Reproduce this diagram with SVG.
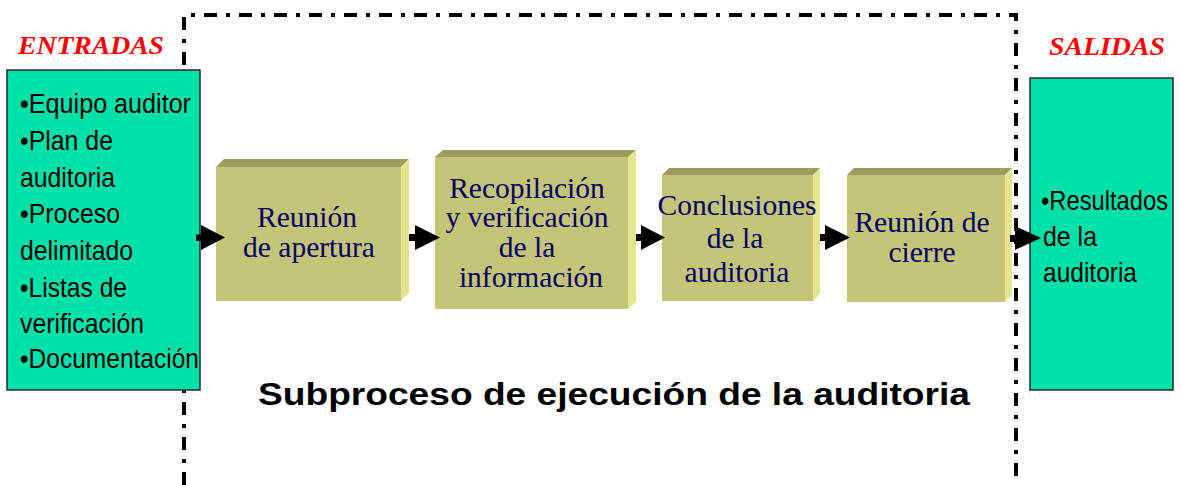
<svg xmlns="http://www.w3.org/2000/svg" width="1181" height="485" viewBox="0 0 1181 485">
  <style>
    .io { fill: #00E1A9; stroke: #2a2a2a; stroke-width: 1.5; }
    .iotext { font-family: "Liberation Sans", Arial, sans-serif; font-size: 27.5px; fill: #000; }
    .label { font-family: "Liberation Serif", "Times New Roman", serif; font-size: 26px; font-weight: bold; font-style: italic; fill: #FF0000; }
    .front { fill: #C4C477; }
    .top { fill: #9C9C5E; }
    .side { fill: #E4E48E; }
    .btext { font-family: "Liberation Serif", "Times New Roman", serif; font-size: 29.5px; fill: #000066; text-anchor: middle; }
    .frame { fill: none; stroke: #000; stroke-width: 4; stroke-dasharray: 13 9 4 9; }
    .arrow { fill: #000; }
    .title { font-family: "Liberation Sans", Arial, sans-serif; font-size: 31px; font-weight: bold; fill: #000; }
  </style>

  <g id="frame">
    <path class="frame" d="M184,485 L184,15 L1016,15 L1016,485"/>
  </g>

  <g id="entradas-label">
    <text class="label" x="18" y="54" textLength="146" lengthAdjust="spacingAndGlyphs">ENTRADAS</text>
  </g>
  <g id="salidas-label">
    <text class="label" x="1049" y="55" textLength="116" lengthAdjust="spacingAndGlyphs">SALIDAS</text>
  </g>

  <g id="entradas">
    <rect class="io" x="7" y="70" width="193" height="320"/>
    <text class="iotext" x="20" y="113" textLength="171" lengthAdjust="spacingAndGlyphs">•Equipo auditor</text>
    <text class="iotext" x="20" y="150" textLength="93" lengthAdjust="spacingAndGlyphs">•Plan de</text>
    <text class="iotext" x="20" y="187" textLength="95" lengthAdjust="spacingAndGlyphs">auditoria</text>
    <text class="iotext" x="20" y="223" textLength="100" lengthAdjust="spacingAndGlyphs">•Proceso</text>
    <text class="iotext" x="20" y="260" textLength="113" lengthAdjust="spacingAndGlyphs">delimitado</text>
    <text class="iotext" x="20" y="297" textLength="107" lengthAdjust="spacingAndGlyphs">•Listas de</text>
    <text class="iotext" x="20" y="333" textLength="124" lengthAdjust="spacingAndGlyphs">verificación</text>
    <text class="iotext" x="20" y="368" textLength="179" lengthAdjust="spacingAndGlyphs">•Documentación</text>
  </g>

  <g id="salidas">
    <rect class="io" x="1030" y="78" width="143" height="312"/>
    <text class="iotext" x="1041" y="210" textLength="127" lengthAdjust="spacingAndGlyphs">•Resultados</text>
    <text class="iotext" x="1043" y="246" textLength="54" lengthAdjust="spacingAndGlyphs">de la</text>
    <text class="iotext" x="1043" y="282" textLength="94" lengthAdjust="spacingAndGlyphs">auditoria</text>
  </g>

  <g id="reunion-apertura">
    <rect class="front" x="216" y="167" width="185" height="134"/>
    <polygon class="top" points="216,167 224,159 409,159 401,167"/>
    <polygon class="side" points="401,167 409,159 409,293 401,301"/>
    <text class="btext" x="307" y="227">Reunión</text>
    <text class="btext" x="309" y="257">de apertura</text>
  </g>

  <g id="recopilacion">
    <rect class="front" x="435" y="157" width="193" height="152"/>
    <polygon class="top" points="435,157 443,150 636,150 628,157"/>
    <polygon class="side" points="628,157 636,150 636,302 628,309"/>
    <text class="btext" x="527" y="198">Recopilación</text>
    <text class="btext" x="527" y="227">y verificación</text>
    <text class="btext" x="527" y="257">de la</text>
    <text class="btext" x="531" y="287">información</text>
  </g>

  <g id="conclusiones">
    <rect class="front" x="662" y="175" width="151" height="126"/>
    <polygon class="top" points="662,175 669,168 820,168 813,175"/>
    <polygon class="side" points="813,175 820,168 820,294 813,301"/>
    <text class="btext" x="737" y="215">Conclusiones</text>
    <text class="btext" x="735" y="248">de la</text>
    <text class="btext" x="737" y="282">auditoria</text>
  </g>

  <g id="reunion-cierre">
    <rect class="front" x="847" y="175" width="158" height="127"/>
    <polygon class="top" points="847,175 854,168 1012,168 1005,175"/>
    <polygon class="side" points="1005,175 1012,168 1012,295 1005,302"/>
    <text class="btext" x="922" y="232">Reunión de</text>
    <text class="btext" x="922" y="262">cierre</text>
  </g>

  <g id="connectors">
    <polygon class="arrow" points="196,234.5 201,234.5 201,225 225,237.5 201,250 201,241 196,241"/>
    <polygon class="arrow" points="409,234 415,234 415,225 440,237.5 415,250 415,241 409,241"/>
    <polygon class="arrow" points="636,234 641,234 641,225 665,237.5 641,250 641,241 636,241"/>
    <polygon class="arrow" points="820,234 825,234 825,225 850,237.5 825,250 825,241 820,241"/>
    <polygon class="arrow" points="1010,235 1015,235 1015,226 1041,238 1015,250 1015,242 1010,242"/>
  </g>

  <g id="title">
    <text class="title" x="258" y="405" textLength="712" lengthAdjust="spacingAndGlyphs">Subproceso de ejecución de la auditoria</text>
  </g>
</svg>
